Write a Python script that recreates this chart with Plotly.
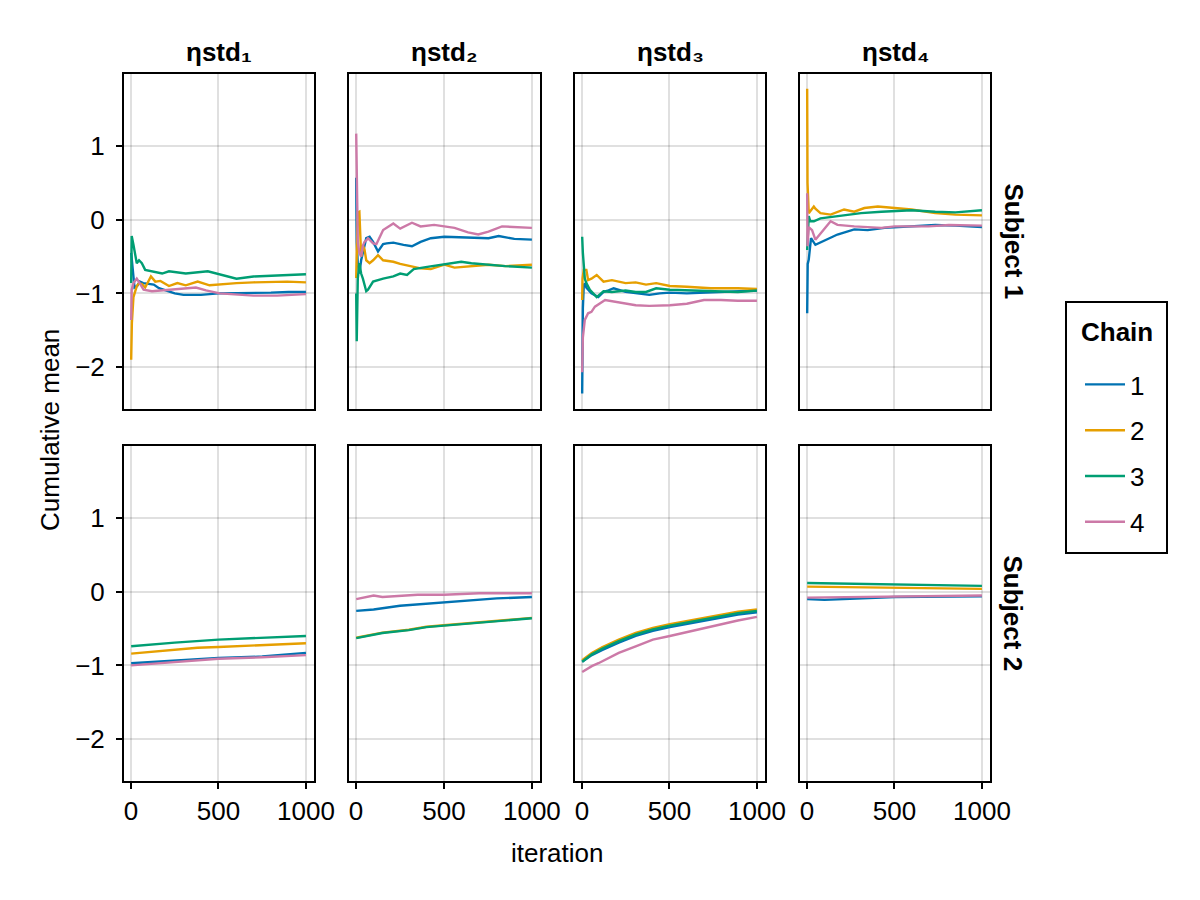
import plotly.graph_objects as go

# ---------------- data ----------------
chains = ["1", "2", "3", "4"]
params = ["ηstd₁", "ηstd₂", "ηstd₃", "ηstd₄"]
subjects = ["Subject 1", "Subject 2"]
colors = ["#0072B2", "#E69F00", "#009E73", "#CC79A7"]

x_ticks = [0, 500, 1000]
y_ticks = [-2, -1, 0, 1]
y_tick_labels = ["−2", "−1", "0", "1"]

# Subject 1, ηstd1
s1_p1_c1_it = [1, 5, 10, 20, 35, 50, 70, 100, 130, 160, 200, 250, 300, 400, 500, 600, 700, 800, 900, 1000]
s1_p1_c1_mean = [-0.45, -0.55, -0.75, -0.92, -0.90, -0.84, -0.86, -0.87, -0.88, -0.93, -0.96, -1.0, -1.02, -1.02, -1.0, -1.0, -0.99, -0.99, -0.98, -0.98]
s1_p1_c2_it = [1, 5, 14, 33, 43, 62, 81, 114, 139, 168, 217, 265, 313, 381, 449, 499, 603, 700, 797, 893, 1000]
s1_p1_c2_mean = [-1.9, -1.4, -1.05, -0.9, -0.87, -0.87, -0.92, -0.77, -0.84, -0.83, -0.9, -0.86, -0.89, -0.84, -0.89, -0.88, -0.86, -0.85, -0.84, -0.84, -0.85]
s1_p1_c3_it = [1, 4, 14, 23, 33, 46, 62, 81, 120, 178, 217, 313, 439, 507, 603, 700, 893, 1000]
s1_p1_c3_mean = [-0.86, -0.22, -0.34, -0.48, -0.59, -0.55, -0.59, -0.68, -0.70, -0.73, -0.70, -0.73, -0.70, -0.74, -0.80, -0.77, -0.75, -0.74]
s1_p1_c4_it = [1, 4, 14, 33, 52, 72, 120, 217, 313, 371, 429, 507, 700, 835, 1000]
s1_p1_c4_mean = [-1.36, -0.95, -0.86, -0.80, -0.87, -0.95, -0.97, -0.95, -0.93, -0.92, -0.96, -1.0, -1.03, -1.03, -1.01]

# Subject 1, ηstd2
s1_p2_c1_it = [1, 4, 10, 19, 29, 39, 58, 77, 97, 125, 154, 174, 212, 270, 318, 367, 425, 502, 598, 695, 753, 811, 900, 1000]
s1_p2_c1_mean = [0.57, -0.3, -0.6, -0.73, -0.55, -0.45, -0.25, -0.23, -0.3, -0.43, -0.33, -0.32, -0.31, -0.34, -0.36, -0.3, -0.25, -0.23, -0.24, -0.25, -0.25, -0.22, -0.26, -0.27]
s1_p2_c2_it = [1, 4, 10, 19, 29, 39, 48, 58, 77, 97, 125, 154, 212, 251, 318, 367, 425, 502, 560, 656, 753, 849, 1000]
s1_p2_c2_mean = [-0.79, -0.3, 0.1, 0.11, -0.5, -0.35, -0.4, -0.55, -0.59, -0.55, -0.48, -0.55, -0.57, -0.6, -0.63, -0.66, -0.67, -0.61, -0.65, -0.63, -0.61, -0.63, -0.61]
s1_p2_c3_it = [1, 4, 10, 19, 29, 39, 58, 68, 97, 125, 154, 212, 251, 290, 328, 405, 463, 540, 598, 656, 733, 849, 1000]
s1_p2_c3_mean = [-1.0, -1.65, -0.8, -0.59, -0.73, -0.8, -0.97, -0.95, -0.84, -0.82, -0.8, -0.77, -0.73, -0.75, -0.67, -0.64, -0.62, -0.59, -0.57, -0.59, -0.61, -0.63, -0.65]
s1_p2_c4_it = [1, 4, 10, 19, 29, 39, 48, 58, 68, 97, 116, 154, 212, 251, 318, 367, 444, 502, 560, 637, 695, 753, 830, 1000]
s1_p2_c4_mean = [1.17, 0.3, -0.3, -0.45, -0.5, -0.35, -0.3, -0.28, -0.25, -0.32, -0.33, -0.14, -0.05, -0.12, -0.04, -0.09, -0.07, -0.09, -0.11, -0.17, -0.2, -0.16, -0.09, -0.11]

# Subject 1, ηstd3
s1_p3_c1_it = [1, 2, 5, 10, 16, 25, 35, 54, 93, 123, 152, 181, 249, 327, 385, 444, 502, 599, 697, 794, 891, 1000]
s1_p3_c1_mean = [-2.36, -1.55, -1.2, -0.9, -0.86, -0.92, -0.95, -1.0, -1.05, -0.98, -0.96, -0.93, -0.98, -1.0, -1.02, -1.0, -0.99, -1.0, -0.99, -0.98, -0.97, -0.96]
s1_p3_c2_it = [1, 3, 10, 25, 35, 54, 84, 123, 171, 249, 307, 366, 424, 502, 599, 736, 891, 1000]
s1_p3_c2_mean = [-1.09, -0.8, -0.68, -0.68, -0.82, -0.8, -0.75, -0.84, -0.82, -0.86, -0.85, -0.88, -0.86, -0.9, -0.91, -0.93, -0.93, -0.94]
s1_p3_c3_it = [1, 5, 16, 25, 45, 84, 123, 171, 249, 307, 366, 424, 502, 697, 891, 1000]
s1_p3_c3_mean = [-0.23, -0.45, -0.8, -0.86, -0.95, -1.05, -0.97, -0.98, -0.96, -0.98, -0.98, -0.93, -0.95, -0.96, -0.98, -0.96]
s1_p3_c4_it = [1, 5, 16, 35, 54, 74, 132, 210, 307, 385, 502, 599, 697, 794, 891, 1000]
s1_p3_c4_mean = [-2.07, -1.6, -1.36, -1.27, -1.25, -1.18, -1.09, -1.12, -1.16, -1.17, -1.16, -1.14, -1.09, -1.09, -1.1, -1.1]

# Subject 1, ηstd4
s1_p4_c1_it = [1, 4, 10, 23, 48, 116, 174, 270, 347, 444, 598, 733, 849, 1000]
s1_p4_c1_mean = [-1.27, -0.6, -0.54, -0.25, -0.34, -0.27, -0.2, -0.13, -0.14, -0.11, -0.09, -0.07, -0.08, -0.1]
s1_p4_c2_it = [1, 3, 10, 39, 48, 77, 135, 212, 270, 328, 405, 502, 598, 733, 849, 1000]
s1_p4_c2_mean = [1.78, 0.5, 0.09, 0.18, 0.15, 0.09, 0.07, 0.14, 0.11, 0.16, 0.18, 0.16, 0.14, 0.09, 0.07, 0.06]
s1_p4_c3_it = [1, 4, 10, 19, 39, 77, 174, 309, 425, 598, 733, 849, 1000]
s1_p4_c3_mean = [-0.41, -0.2, 0.05, -0.02, -0.02, 0.02, 0.05, 0.09, 0.11, 0.13, 0.11, 0.1, 0.13]
s1_p4_c4_it = [1, 3, 10, 29, 48, 135, 174, 270, 425, 502, 695, 811, 1000]
s1_p4_c4_mean = [0.36, -0.36, -0.1, -0.14, -0.27, -0.02, -0.07, -0.09, -0.11, -0.09, -0.09, -0.07, -0.08]

# Subject 2, ηstd1
s2_p1_c1_it = [1, 250, 500, 750, 1000]
s2_p1_c1_mean = [-0.97, -0.93, -0.90, -0.88, -0.83]
s2_p1_c2_it = [1, 250, 380, 500, 750, 1000]
s2_p1_c2_mean = [-0.84, -0.79, -0.76, -0.75, -0.73, -0.70]
s2_p1_c3_it = [1, 250, 500, 750, 1000]
s2_p1_c3_mean = [-0.74, -0.69, -0.65, -0.63, -0.60]
s2_p1_c4_it = [1, 250, 500, 750, 1000]
s2_p1_c4_mean = [-1.0, -0.95, -0.91, -0.89, -0.86]

# Subject 2, ηstd2
s2_p2_c1_it = [1, 100, 250, 350, 500, 650, 800, 1000]
s2_p2_c1_mean = [-0.26, -0.24, -0.19, -0.17, -0.15, -0.11, -0.09, -0.07]
s2_p2_c2_it = [1, 150, 300, 400, 500, 700, 850, 1000]
s2_p2_c2_mean = [-0.625, -0.555, -0.515, -0.475, -0.455, -0.415, -0.385, -0.355]
s2_p2_c3_it = [1, 150, 300, 400, 500, 700, 850, 1000]
s2_p2_c3_mean = [-0.63, -0.56, -0.52, -0.48, -0.46, -0.42, -0.39, -0.36]
s2_p2_c4_it = [1, 100, 150, 250, 350, 500, 700, 1000]
s2_p2_c4_mean = [-0.1, -0.05, -0.07, -0.05, -0.04, -0.04, -0.02, -0.02]

# Subject 2, ηstd3
s2_p3_c1_it = [1, 56, 117, 210, 307, 405, 502, 697, 891, 1000]
s2_p3_c1_mean = [-0.95, -0.86, -0.79, -0.69, -0.60, -0.53, -0.48, -0.39, -0.31, -0.28]
s2_p3_c2_it = [1, 56, 117, 210, 307, 405, 502, 697, 891, 1000]
s2_p3_c2_mean = [-0.93, -0.83, -0.75, -0.65, -0.56, -0.49, -0.44, -0.35, -0.27, -0.24]
s2_p3_c3_it = [1, 56, 117, 210, 307, 405, 502, 697, 891, 1000]
s2_p3_c3_mean = [-0.95, -0.85, -0.77, -0.67, -0.58, -0.51, -0.46, -0.37, -0.29, -0.26]
s2_p3_c4_it = [1, 56, 94, 210, 307, 405, 502, 697, 891, 1000]
s2_p3_c4_mean = [-1.09, -1.01, -0.97, -0.83, -0.74, -0.65, -0.60, -0.49, -0.39, -0.34]

# Subject 2, ηstd4
s2_p4_c1_it = [1, 100, 500, 1000]
s2_p4_c1_mean = [-0.10, -0.11, -0.07, -0.06]
s2_p4_c2_it = [1, 500, 1000]
s2_p4_c2_mean = [0.07, 0.05, 0.04]
s2_p4_c3_it = [1, 250, 500, 750, 1000]
s2_p4_c3_mean = [0.12, 0.11, 0.10, 0.09, 0.08]
s2_p4_c4_it = [1, 500, 1000]
s2_p4_c4_mean = [-0.08, -0.06, -0.05]

series = {
    (0, 0): [(s1_p1_c1_it, s1_p1_c1_mean), (s1_p1_c2_it, s1_p1_c2_mean), (s1_p1_c3_it, s1_p1_c3_mean), (s1_p1_c4_it, s1_p1_c4_mean)],
    (0, 1): [(s1_p2_c1_it, s1_p2_c1_mean), (s1_p2_c2_it, s1_p2_c2_mean), (s1_p2_c3_it, s1_p2_c3_mean), (s1_p2_c4_it, s1_p2_c4_mean)],
    (0, 2): [(s1_p3_c1_it, s1_p3_c1_mean), (s1_p3_c2_it, s1_p3_c2_mean), (s1_p3_c3_it, s1_p3_c3_mean), (s1_p3_c4_it, s1_p3_c4_mean)],
    (0, 3): [(s1_p4_c1_it, s1_p4_c1_mean), (s1_p4_c2_it, s1_p4_c2_mean), (s1_p4_c3_it, s1_p4_c3_mean), (s1_p4_c4_it, s1_p4_c4_mean)],
    (1, 0): [(s2_p1_c1_it, s2_p1_c1_mean), (s2_p1_c2_it, s2_p1_c2_mean), (s2_p1_c3_it, s2_p1_c3_mean), (s2_p1_c4_it, s2_p1_c4_mean)],
    (1, 1): [(s2_p2_c1_it, s2_p2_c1_mean), (s2_p2_c2_it, s2_p2_c2_mean), (s2_p2_c3_it, s2_p2_c3_mean), (s2_p2_c4_it, s2_p2_c4_mean)],
    (1, 2): [(s2_p3_c1_it, s2_p3_c1_mean), (s2_p3_c2_it, s2_p3_c2_mean), (s2_p3_c3_it, s2_p3_c3_mean), (s2_p3_c4_it, s2_p3_c4_mean)],
    (1, 3): [(s2_p4_c1_it, s2_p4_c1_mean), (s2_p4_c2_it, s2_p4_c2_mean), (s2_p4_c3_it, s2_p4_c3_mean), (s2_p4_c4_it, s2_p4_c4_mean)],
}

# ---------------- layout ----------------
# The page body has an 8px margin; size the figure so the page is exactly 1200x900.
OFF = 8
W, H = 1200 - 2 * OFF, 900 - 2 * OFF
FS = 26
FONT = "Liberation Sans, Arial, Helvetica, sans-serif"


def px(x):
    return (x - OFF) / W


def py(y):
    return 1 - (y - OFF) / H


col_px = [(124, 314), (349, 540), (575, 765), (800, 990)]
row_px = [(74, 409), (446, 781)]
x_range = [-40, 1046]
y_range = [-2.57, 1.98]

fig = go.Figure()
layout = dict(
    width=W, height=H, autosize=False,
    margin=dict(l=0, r=0, t=0, b=0, pad=0, autoexpand=False),
    paper_bgcolor="white", plot_bgcolor="white",
    font=dict(family=FONT, size=FS, color="black"),
    showlegend=True,
)

for r in range(2):
    for c in range(4):
        idx = r * 4 + c + 1
        xname = "xaxis" if idx == 1 else f"xaxis{idx}"
        yname = "yaxis" if idx == 1 else f"yaxis{idx}"
        xref = "x" if idx == 1 else f"x{idx}"
        yref = "y" if idx == 1 else f"y{idx}"
        x0, x1 = col_px[c]
        y0, y1 = row_px[r]
        bottom = r == 1
        left = c == 0
        layout[xname] = dict(
            domain=[px(x0), px(x1)], anchor=yref, range=x_range, automargin=False,
            showgrid=True, gridcolor="rgba(0,0,0,0.12)", gridwidth=1.5,
            zeroline=False, showline=True, linecolor="black", linewidth=2, mirror=True,
            tickvals=x_ticks, ticktext=[str(v) for v in x_ticks],
            showticklabels=bottom, ticks="outside" if bottom else "",
            ticklen=6, tickwidth=1.5, tickcolor="black",
            tickfont=dict(family=FONT, size=FS, color="black"),
        )
        layout[yname] = dict(
            domain=[py(y1), py(y0)], anchor=xref, range=y_range, automargin=False,
            showgrid=True, gridcolor="rgba(0,0,0,0.12)", gridwidth=1.5,
            zeroline=False, showline=True, linecolor="black", linewidth=2, mirror=True,
            tickvals=y_ticks, ticktext=y_tick_labels,
            showticklabels=left, ticks="outside" if left else "",
            ticklen=6, tickwidth=1.5, tickcolor="black", ticklabelstandoff=6,
            tickfont=dict(family=FONT, size=FS, color="black"),
        )
        for k, (its, vals) in enumerate(series[(r, c)]):
            fig.add_trace(go.Scatter(
                x=its, y=vals, mode="lines",
                line=dict(color=colors[k], width=2.4),
                name=chains[k], legendgroup=chains[k],
                showlegend=(idx == 1),
                xaxis=xref, yaxis=yref,
            ))

annotations = []
for c, p in enumerate(params):
    x0, x1 = col_px[c]
    annotations.append(dict(
        text=f"<b>{p}</b>", x=px((x0 + x1) / 2), y=py(52),
        xref="paper", yref="paper", showarrow=False,
        xanchor="center", yanchor="middle", font=dict(family=FONT, size=FS),
    ))
for r, s in enumerate(subjects):
    y0, y1 = row_px[r]
    annotations.append(dict(
        text=f"<b>{s}</b>", x=px(1013), y=py((y0 + y1) / 2),
        xref="paper", yref="paper", showarrow=False, textangle=90,
        xanchor="center", yanchor="middle", font=dict(family=FONT, size=FS),
    ))
annotations.append(dict(
    text="Cumulative mean", x=px(50), y=py(430), xref="paper", yref="paper",
    showarrow=False, textangle=-90, xanchor="center", yanchor="middle",
    font=dict(family=FONT, size=FS),
))
annotations.append(dict(
    text="iteration", x=px(557), y=py(853), xref="paper", yref="paper",
    showarrow=False, xanchor="center", yanchor="middle",
    font=dict(family=FONT, size=FS),
))
# legend title
annotations.append(dict(
    text="<b>Chain</b>", x=px(1116.5), y=py(332), xref="paper", yref="paper",
    showarrow=False, xanchor="center", yanchor="middle",
    font=dict(family=FONT, size=FS),
))
layout["annotations"] = annotations

# legend frame
layout["shapes"] = [dict(
    type="rect", xref="paper", yref="paper",
    x0=px(1066), x1=px(1167), y0=py(553), y1=py(302),
    line=dict(color="black", width=2), fillcolor="rgba(0,0,0,0)", layer="above",
)]

layout["legend"] = dict(
    x=px(1080), y=py(361), xanchor="left", yanchor="top",
    borderwidth=0, bgcolor="rgba(0,0,0,0)",
    font=dict(family=FONT, size=FS),
    tracegroupgap=9, itemwidth=40,
)

fig.update_layout(**layout)
fig.write_html("out.html")
